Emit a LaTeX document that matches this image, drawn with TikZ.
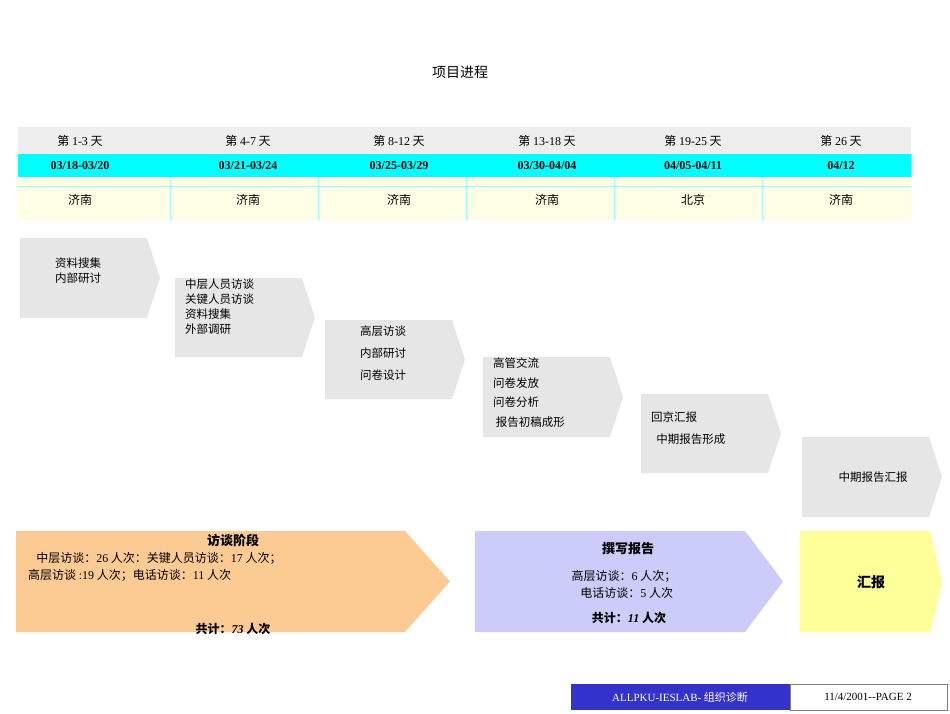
\documentclass[tikz,border=0pt]{standalone}
\usepackage{fontspec}
\setmainfont{Noto Sans CJK SC}
\newfontfamily\latin{Liberation Serif}
\usetikzlibrary{positioning}
\definecolor{rowgray}{HTML}{EEEEEE}
\definecolor{rowcyan}{HTML}{00FFFF}
\definecolor{rowyel}{HTML}{FFFFE6}
\definecolor{chgray}{HTML}{E6E6E6}
\definecolor{chorange}{HTML}{FCCB94}
\definecolor{chblue}{HTML}{CCCCFA}
\definecolor{chyel}{HTML}{FFFF99}
\definecolor{foot}{HTML}{3333CC}
\tikzset{
    cell/.style = {font=\fontsize{12}{14}\selectfont, anchor=center},
    date/.style = {font=\latin\bfseries\fontsize{12}{14}\selectfont, anchor=center},
    steptext/.style = {font=\fontsize{11.5}{15}\selectfont, align=left, anchor=north west, inner sep=0pt},
    phasetext/.style = {font=\fontsize{12}{17}\selectfont, align=center, inner sep=0pt}
}
% chevron: left, top, right, bottom, start of the point, colour
\newcommand{\chev}[6]{\fill[#6] (#1,#2) -- (#5,#2) -- (#3,{(#2+#4)/2}) -- (#5,#4) -- (#1,#4) -- cycle;}
\begin{document}
\begin{tikzpicture}[x=1pt,y=-1pt]
    \useasboundingbox (0,0) rectangle (950,713);
    \node[font=\fontsize{14}{16}\selectfont] (title) at (460,72) {项目进程};
    % table
    \fill[rowgray] (18,127) rectangle (911,154);
    \fill[rowcyan] (18,154) rectangle (911,177);
    \fill[rowyel] (18,177) rectangle (911,220);
    \draw[rowcyan!40,thin] (18,186) -- (911,186);
    \foreach \x in {170,318,466,614,762} \draw[rowcyan!40,thin] (\x,177) -- (\x,220);
    \foreach \x/\d/\t/\p [count=\i] in {80/1-3/03\slash 18-03\slash 20/济南, 248/4-7/03\slash 21-03\slash 24/济南,
        399/8-12/03\slash 25-03\slash 29/济南 / 威海, 547/13-18/03\slash 30-04\slash 04/济南,
        693/19-25/04\slash 05-04\slash 11/北京, 841/26/04\slash 12/济南} {
        \node[cell] (day\i) at (\x,141) {第 {\latin\d} 天};
        \node[date] (date\i) at (\x,166) {\t};
        \node[cell] (place\i) at (\x,200) {\p};
    }
    % steps
    \chev{20}{238}{160}{318}{147}{chgray}
    \chev{175}{278}{315}{357}{302}{chgray}
    \chev{325}{320}{465}{399}{452}{chgray}
    \chev{483}{357}{623}{437}{610}{chgray}
    \chev{641}{394}{781}{473}{768}{chgray}
    \chev{802}{437}{942}{517}{929}{chgray}
    \node[steptext] (s1) at (55,258) {资料搜集\\内部研讨};
    \node[steptext] (s2) at (185,279) {中层人员访谈\\关键人员访谈\\资料搜集\\外部调研};
    \node[steptext,font=\fontsize{11.5}{22}\selectfont] (s3) at (360,326) {高层访谈\\内部研讨\\问卷设计};
    \node[steptext,font=\fontsize{11.5}{19.5}\selectfont] (s4) at (493,358) {高管交流\\问卷发放\\问卷分析\\\ 报告初稿成形};
    \node[steptext,font=\fontsize{11.5}{22}\selectfont] (s5) at (651,412) {回京汇报\\\ \ 中期报告形成};
    \node[cell,font=\fontsize{11.5}{14}\selectfont] (s6) at (873,477) {中期报告汇报};
    % phases
    \chev{16}{531}{450}{632}{405}{chorange}
    \chev{475}{531}{783}{632}{745}{chblue}
    \chev{800}{531}{942}{632}{930}{chyel}
    \node[phasetext,font=\bfseries\fontsize{13}{15}\selectfont] (p1) at (233,540) {访谈阶段};
    \node[phasetext,anchor=north west,align=left] (p1a) at (28,552)
        {\ \ \ 中层访谈：{\latin 26} 人次：关键人员访谈：{\latin 17} 人次；\\高层访谈 {\latin :19} 人次；电话访谈：{\latin 11} 人次};
    \node[phasetext,font=\bfseries\itshape\fontsize{12}{14}\selectfont] (p1b) at (233,629) {共计：{\latin 73} 人次};
    \node[phasetext,font=\bfseries\fontsize{13}{15}\selectfont] (p2) at (628,549) {撰写报告};
    \node[phasetext] (p2a) at (624,584) {高层访谈：{\latin 6} 人次；\\\ \ 电话访谈：{\latin 5} 人次};
    \node[phasetext,font=\bfseries\itshape\fontsize{12}{14}\selectfont] (p2b) at (629,618) {共计：{\latin 11} 人次};
    \node[phasetext,font=\bfseries\fontsize{14}{16}\selectfont] (p3) at (871,582) {汇报};
    % footer
    \fill[foot] (571,684) rectangle (790,710);
    \draw[gray,fill=white] (790,684) rectangle (947,710);
    \node[text=white,font=\fontsize{11}{13}\selectfont] (f1) at (680,697) {{\latin ALLPKU-IESLAB-} 组织诊断};
    \node[font=\latin\fontsize{11}{13}\selectfont] (f2) at (868,697) {11/4/2001--PAGE 2};
\end{tikzpicture}
\end{document}
